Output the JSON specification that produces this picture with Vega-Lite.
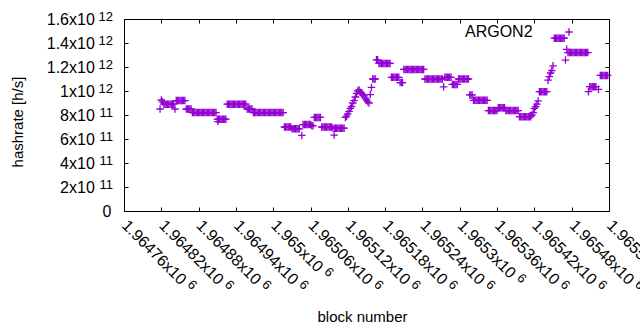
{
"$schema": "https://vega.github.io/schema/vega-lite/v6.json",
"width": 485, "height": 192,
"autosize": {"type": "none"},
"padding": {"left": 124, "top": 19, "right": 31, "bottom": 119},
"background": "white",
"config": {
 "view": {"stroke": "#000", "strokeWidth": 1},
 "axis": {"domain": false, "grid": false, "labelFont": "Liberation Sans", "titleFont": "Liberation Sans", "labelColor": "#000", "titleColor": "#000", "tickColor": "#000", "labelFontSize": 16, "titleFontSize": 15, "titleFontWeight": "normal"}
},
"datasets": {"hr": [
{"b":1964818,"h":8.5e11},{"b":1964820,"h":9.25e11},{"b":1964822,"h":9.1e11},
{"b":1964824,"h":8.9e11},{"b":1964826,"h":8.9e11},{"b":1964828,"h":8.9e11},{"b":1964830,"h":8.9e11},{"b":1964832,"h":8.9e11},{"b":1964834,"h":8.9e11},{"b":1964836,"h":8.9e11},{"b":1964838,"h":8.9e11},{"b":1964840,"h":8.9e11},
{"b":1964842,"h":8.5e11},
{"b":1964844,"h":9.2e11},{"b":1964846,"h":9.2e11},{"b":1964848,"h":9.2e11},{"b":1964850,"h":9.2e11},{"b":1964852,"h":9.2e11},{"b":1964854,"h":9.2e11},{"b":1964856,"h":9.2e11},{"b":1964858,"h":9.2e11},
{"b":1964860,"h":8.5e11},{"b":1964862,"h":8.5e11},{"b":1964864,"h":8.5e11},{"b":1964866,"h":8.5e11},{"b":1964868,"h":8.5e11},
{"b":1964870,"h":8.2e11},{"b":1964872,"h":8.2e11},{"b":1964874,"h":8.2e11},{"b":1964876,"h":8.2e11},{"b":1964878,"h":8.2e11},{"b":1964880,"h":8.2e11},{"b":1964882,"h":8.2e11},{"b":1964884,"h":8.2e11},{"b":1964886,"h":8.2e11},{"b":1964888,"h":8.2e11},{"b":1964890,"h":8.2e11},{"b":1964892,"h":8.2e11},{"b":1964894,"h":8.2e11},{"b":1964896,"h":8.2e11},{"b":1964898,"h":8.2e11},{"b":1964900,"h":8.2e11},{"b":1964902,"h":8.2e11},{"b":1964904,"h":8.2e11},{"b":1964906,"h":8.2e11},{"b":1964908,"h":8.2e11},
{"b":1964910,"h":7.65e11},{"b":1964911,"h":7.45e11},{"b":1964912,"h":7.65e11},{"b":1964914,"h":7.65e11},{"b":1964916,"h":7.65e11},{"b":1964918,"h":7.65e11},{"b":1964920,"h":7.65e11},{"b":1964922,"h":7.65e11},{"b":1964924,"h":7.65e11},
{"b":1964926,"h":8.9e11},{"b":1964928,"h":8.9e11},{"b":1964930,"h":8.9e11},{"b":1964932,"h":8.9e11},{"b":1964934,"h":8.9e11},{"b":1964936,"h":8.9e11},{"b":1964938,"h":8.9e11},{"b":1964940,"h":8.9e11},{"b":1964942,"h":8.9e11},{"b":1964944,"h":8.9e11},{"b":1964946,"h":8.9e11},{"b":1964948,"h":8.9e11},{"b":1964950,"h":8.9e11},{"b":1964952,"h":8.9e11},{"b":1964954,"h":8.9e11},{"b":1964956,"h":8.9e11},
{"b":1964958,"h":8.5e11},{"b":1964960,"h":8.5e11},{"b":1964962,"h":8.5e11},{"b":1964964,"h":8.5e11},{"b":1964966,"h":8.5e11},
{"b":1964968,"h":8.2e11},{"b":1964970,"h":8.2e11},{"b":1964972,"h":8.2e11},{"b":1964974,"h":8.2e11},{"b":1964976,"h":8.2e11},{"b":1964978,"h":8.2e11},{"b":1964980,"h":8.2e11},{"b":1964982,"h":8.2e11},{"b":1964984,"h":8.2e11},{"b":1964986,"h":8.2e11},{"b":1964988,"h":8.2e11},{"b":1964990,"h":8.2e11},{"b":1964992,"h":8.2e11},{"b":1964994,"h":8.2e11},{"b":1964996,"h":8.2e11},{"b":1964998,"h":8.2e11},{"b":1965000,"h":8.2e11},{"b":1965002,"h":8.2e11},{"b":1965004,"h":8.2e11},{"b":1965006,"h":8.2e11},{"b":1965008,"h":8.2e11},{"b":1965010,"h":8.2e11},{"b":1965012,"h":8.2e11},{"b":1965014,"h":8.2e11},{"b":1965016,"h":8.2e11},
{"b":1965018,"h":7.0e11},{"b":1965020,"h":7.0e11},{"b":1965022,"h":7.0e11},{"b":1965024,"h":7.0e11},{"b":1965026,"h":7.0e11},{"b":1965028,"h":7.0e11},
{"b":1965030,"h":6.85e11},{"b":1965032,"h":6.85e11},{"b":1965034,"h":6.85e11},{"b":1965036,"h":6.85e11},{"b":1965038,"h":6.85e11},{"b":1965040,"h":6.85e11},{"b":1965042,"h":6.85e11},
{"b":1965046,"h":6.3e11},
{"b":1965048,"h":7.2e11},{"b":1965050,"h":7.2e11},{"b":1965052,"h":7.2e11},{"b":1965054,"h":7.2e11},{"b":1965056,"h":7.2e11},{"b":1965058,"h":7.2e11},{"b":1965060,"h":7.2e11},
{"b":1965062,"h":7.1e11},{"b":1965064,"h":7.1e11},
{"b":1965066,"h":7.8e11},{"b":1965068,"h":7.8e11},{"b":1965070,"h":7.8e11},{"b":1965072,"h":7.8e11},{"b":1965074,"h":7.8e11},{"b":1965076,"h":7.8e11},
{"b":1965078,"h":7.0e11},{"b":1965080,"h":7.0e11},{"b":1965082,"h":7.0e11},{"b":1965084,"h":7.0e11},{"b":1965086,"h":7.0e11},{"b":1965088,"h":7.0e11},{"b":1965090,"h":7.0e11},{"b":1965092,"h":7.0e11},{"b":1965094,"h":7.0e11},
{"b":1965096,"h":6.9e11},{"b":1965098,"h":6.33e11},{"b":1965099,"h":6.9e11},{"b":1965100,"h":6.9e11},{"b":1965102,"h":6.9e11},{"b":1965104,"h":6.9e11},{"b":1965106,"h":6.9e11},{"b":1965108,"h":6.9e11},{"b":1965110,"h":6.9e11},{"b":1965112,"h":6.9e11},{"b":1965114,"h":6.9e11},
{"b":1965116,"h":7.8e11},{"b":1965118,"h":7.9e11},{"b":1965120,"h":8.1e11},{"b":1965122,"h":8.3e11},{"b":1965124,"h":8.55e11},{"b":1965126,"h":8.7e11},{"b":1965128,"h":9.0e11},{"b":1965130,"h":9.2e11},{"b":1965132,"h":9.5e11},{"b":1965134,"h":9.8e11},{"b":1965136,"h":1.0e12},{"b":1965138,"h":1.01e12},{"b":1965140,"h":9.9e11},{"b":1965142,"h":9.8e11},{"b":1965144,"h":9.7e11},{"b":1965146,"h":9.6e11},{"b":1965148,"h":9.4e11},{"b":1965150,"h":9.25e11},{"b":1965152,"h":9.1e11},{"b":1965154,"h":9.0e11},{"b":1965156,"h":9.7e11},{"b":1965158,"h":1.03e12},
{"b":1965160,"h":1.1e12},{"b":1965162,"h":1.1e12},{"b":1965164,"h":1.1e12},
{"b":1965166,"h":1.26e12},{"b":1965168,"h":1.26e12},
{"b":1965170,"h":1.23e12},{"b":1965172,"h":1.23e12},{"b":1965174,"h":1.23e12},{"b":1965176,"h":1.23e12},{"b":1965178,"h":1.23e12},{"b":1965180,"h":1.23e12},{"b":1965182,"h":1.23e12},{"b":1965184,"h":1.23e12},{"b":1965186,"h":1.23e12},{"b":1965188,"h":1.23e12},
{"b":1965190,"h":1.114e12},{"b":1965192,"h":1.114e12},{"b":1965194,"h":1.114e12},{"b":1965196,"h":1.114e12},{"b":1965198,"h":1.114e12},{"b":1965200,"h":1.114e12},{"b":1965202,"h":1.114e12},
{"b":1965204,"h":1.07e12},{"b":1965206,"h":1.07e12},{"b":1965208,"h":1.07e12},
{"b":1965210,"h":1.18e12},{"b":1965212,"h":1.18e12},{"b":1965214,"h":1.18e12},{"b":1965216,"h":1.18e12},{"b":1965218,"h":1.18e12},{"b":1965220,"h":1.18e12},{"b":1965222,"h":1.18e12},{"b":1965224,"h":1.18e12},{"b":1965226,"h":1.18e12},{"b":1965228,"h":1.18e12},{"b":1965230,"h":1.18e12},{"b":1965232,"h":1.18e12},{"b":1965234,"h":1.18e12},{"b":1965236,"h":1.18e12},{"b":1965238,"h":1.18e12},{"b":1965240,"h":1.18e12},{"b":1965242,"h":1.18e12},
{"b":1965244,"h":1.1e12},{"b":1965246,"h":1.1e12},{"b":1965248,"h":1.1e12},{"b":1965250,"h":1.1e12},{"b":1965252,"h":1.1e12},{"b":1965254,"h":1.1e12},{"b":1965256,"h":1.1e12},{"b":1965258,"h":1.1e12},{"b":1965260,"h":1.1e12},{"b":1965262,"h":1.1e12},{"b":1965264,"h":1.1e12},{"b":1965266,"h":1.1e12},{"b":1965268,"h":1.1e12},{"b":1965270,"h":1.1e12},{"b":1965272,"h":1.1e12},
{"b":1965274,"h":1.035e12},
{"b":1965276,"h":1.114e12},{"b":1965278,"h":1.114e12},{"b":1965280,"h":1.114e12},{"b":1965282,"h":1.114e12},{"b":1965284,"h":1.114e12},{"b":1965286,"h":1.114e12},
{"b":1965288,"h":1.055e12},{"b":1965290,"h":1.055e12},{"b":1965292,"h":1.055e12},{"b":1965294,"h":1.055e12},{"b":1965296,"h":1.055e12},
{"b":1965298,"h":1.1e12},{"b":1965300,"h":1.1e12},{"b":1965302,"h":1.1e12},{"b":1965304,"h":1.1e12},{"b":1965306,"h":1.1e12},{"b":1965308,"h":1.1e12},{"b":1965310,"h":1.1e12},{"b":1965312,"h":1.1e12},{"b":1965314,"h":1.1e12},
{"b":1965316,"h":9.67e11},{"b":1965318,"h":9.67e11},{"b":1965320,"h":9.67e11},
{"b":1965322,"h":9.22e11},{"b":1965324,"h":9.22e11},{"b":1965326,"h":9.22e11},{"b":1965328,"h":9.22e11},{"b":1965330,"h":9.22e11},{"b":1965332,"h":9.22e11},{"b":1965334,"h":9.22e11},{"b":1965336,"h":9.22e11},{"b":1965338,"h":9.22e11},{"b":1965340,"h":9.22e11},{"b":1965342,"h":9.22e11},{"b":1965344,"h":9.22e11},
{"b":1965346,"h":8.37e11},{"b":1965348,"h":8.37e11},{"b":1965350,"h":8.37e11},{"b":1965352,"h":8.37e11},{"b":1965354,"h":8.37e11},{"b":1965356,"h":8.37e11},{"b":1965358,"h":8.37e11},{"b":1965360,"h":8.37e11},
{"b":1965362,"h":8.6e11},{"b":1965364,"h":8.6e11},{"b":1965366,"h":8.6e11},{"b":1965368,"h":8.6e11},{"b":1965370,"h":8.6e11},{"b":1965372,"h":8.6e11},
{"b":1965374,"h":8.37e11},{"b":1965376,"h":8.37e11},{"b":1965378,"h":8.37e11},{"b":1965380,"h":8.37e11},{"b":1965382,"h":8.37e11},{"b":1965384,"h":8.37e11},{"b":1965386,"h":8.37e11},{"b":1965388,"h":8.37e11},{"b":1965390,"h":8.37e11},{"b":1965392,"h":8.37e11},{"b":1965394,"h":8.37e11},
{"b":1965396,"h":7.86e11},{"b":1965398,"h":7.86e11},{"b":1965400,"h":7.86e11},{"b":1965402,"h":7.86e11},{"b":1965404,"h":7.86e11},{"b":1965406,"h":7.86e11},{"b":1965408,"h":7.86e11},{"b":1965410,"h":7.86e11},{"b":1965412,"h":7.86e11},{"b":1965414,"h":7.86e11},
{"b":1965416,"h":8.0e11},{"b":1965418,"h":8.2e11},{"b":1965420,"h":8.56e11},{"b":1965422,"h":8.7e11},{"b":1965424,"h":8.9e11},{"b":1965426,"h":9.17e11},
{"b":1965428,"h":9.94e11},{"b":1965430,"h":9.94e11},{"b":1965432,"h":9.94e11},{"b":1965434,"h":9.94e11},{"b":1965436,"h":9.94e11},{"b":1965438,"h":9.94e11},{"b":1965440,"h":9.94e11},
{"b":1965442,"h":1.09e12},{"b":1965444,"h":1.12e12},{"b":1965446,"h":1.15e12},{"b":1965448,"h":1.17e12},{"b":1965450,"h":1.21e12},
{"b":1965452,"h":1.44e12},{"b":1965454,"h":1.44e12},{"b":1965456,"h":1.44e12},{"b":1965458,"h":1.44e12},{"b":1965460,"h":1.44e12},{"b":1965462,"h":1.44e12},{"b":1965464,"h":1.44e12},{"b":1965466,"h":1.44e12},{"b":1965468,"h":1.44e12},
{"b":1965470,"h":1.258e12},{"b":1965472,"h":1.347e12},
{"b":1965474,"h":1.32e12},{"b":1965476,"h":1.32e12},{"b":1965478,"h":1.32e12},{"b":1965480,"h":1.32e12},{"b":1965482,"h":1.32e12},{"b":1965484,"h":1.32e12},{"b":1965486,"h":1.32e12},{"b":1965488,"h":1.32e12},{"b":1965490,"h":1.32e12},{"b":1965492,"h":1.32e12},{"b":1965494,"h":1.32e12},{"b":1965496,"h":1.32e12},{"b":1965498,"h":1.32e12},{"b":1965500,"h":1.32e12},{"b":1965502,"h":1.32e12},{"b":1965504,"h":1.32e12},{"b":1965506,"h":1.32e12},
{"b":1965507,"h":9.94e11},
{"b":1965509,"h":1.036e12},{"b":1965511,"h":1.036e12},{"b":1965513,"h":1.036e12},{"b":1965515,"h":1.036e12},{"b":1965517,"h":1.036e12},{"b":1965519,"h":1.036e12},
{"b":1965523,"h":1.014e12},
{"b":1965526,"h":1.13e12},{"b":1965528,"h":1.13e12},{"b":1965530,"h":1.13e12},{"b":1965532,"h":1.13e12},{"b":1965534,"h":1.13e12},{"b":1965536,"h":1.13e12},{"b":1965538,"h":1.13e12}
]},
"layer": [
 {
  "data": {"name": "hr"},
  "mark": {"type": "point", "shape": "M-1,0H1M0,-1V1", "filled": false, "size": 56, "strokeWidth": 1.3, "opacity": 1},
  "encoding": {
   "x": {"field": "b", "type": "quantitative",
    "scale": {"domain": [1964760, 1965540], "nice": false, "zero": false},
    "axis": {"orient": "bottom", "values": [1964760,1964820,1964880,1964940,1965000,1965060,1965120,1965180,1965240,1965300,1965360,1965420,1965480,1965540],
     "labelExpr": "format(datum.value/1e6, '.6~g') + 'x10'",
     "labelAngle": 45, "labelAlign": "left", "labelBaseline": "middle", "labelPadding": 15.5, "labelOffset": 0, "tickSize": -4,
     "labelFlush": false, "labelOverlap": false, "labelBound": false,
     "title": "block number", "titleX": 238, "titleY": 110, "titleAlign": "center", "titleBaseline": "alphabetic"}},
   "y": {"field": "h", "type": "quantitative",
    "scale": {"domain": [0, 1600000000000], "nice": false, "zero": true},
    "axis": {"orient": "left", "values": [0,200000000000,400000000000,600000000000,800000000000,1000000000000,1200000000000,1400000000000,1600000000000],
     "labelExpr": "datum.value == 0 ? '' : (datum.value >= 1e12 ? format(datum.value/1e12, '~g') : format(datum.value/1e11, '~g')) + 'x10'",
     "labelAlign": "right", "labelBaseline": "middle", "labelPadding": 33.7, "tickSize": -4, "labelOverlap": false, "labelFlush": false,
     "title": "hashrate [h/s]", "titleAngle": -90, "titleX": -107, "titleY": 102.5, "titleAlign": "center", "titleBaseline": "middle"}},
   "color": {"datum": "ARGON2", "type": "nominal", "scale": {"range": ["#9400d3"]},
    "legend": {"orient": "none", "legendX": 330, "legendY": 5, "title": null, "labelFontSize": 16, "labelFont": "Liberation Sans", "labelColor": "#000", "labelOffset": -112, "symbolOffset": 107, "symbolType": "M-1,0H1M0,-1V1", "symbolSize": 56, "symbolStrokeWidth": 1.3, "padding": 0}}
  }
 },
 {
  "data": {"name": "hr"},
  "mark": {"type": "point", "opacity": 0},
  "encoding": {
   "x": {"field": "b", "type": "quantitative",
    "axis": {"orient": "top", "values": [1964760,1964820,1964880,1964940,1965000,1965060,1965120,1965180,1965240,1965300,1965360,1965420,1965480,1965540], "labels": false, "tickSize": -4, "title": null}},
   "y": {"field": "h", "type": "quantitative",
    "axis": {"orient": "left", "values": [0,200000000000,400000000000,600000000000,800000000000,1000000000000,1200000000000,1400000000000,1600000000000], "ticks": false,
     "labelExpr": "datum.value == 0 ? '0' : (datum.value >= 1e12 ? '12' : '11')",
     "labelAlign": "right", "labelBaseline": "middle", "labelOverlap": false, "labelFlush": false,
     "labelPadding": {"condition": {"test": "datum.value == 0", "value": 13}, "value": 11.5},
     "labelOffset": {"condition": {"test": "datum.value == 0", "value": 0}, "value": -3},
     "labelFontSize": {"condition": {"test": "datum.value == 0", "value": 16}, "value": 13},
     "title": null}}
  }
 },
 {
  "data": {"name": "hr"},
  "mark": {"type": "point", "opacity": 0},
  "encoding": {
   "x": {"field": "b", "type": "quantitative",
    "axis": {"orient": "bottom", "values": [1964760,1964820,1964880,1964940,1965000,1965060,1965120,1965180,1965240,1965300,1965360,1965420,1965480,1965540], "ticks": false,
     "labelExpr": "'6'", "labelFontSize": 13,
     "labelAngle": 45, "labelAlign": "left", "labelBaseline": "middle",
     "labelFlush": false, "labelOverlap": false, "labelBound": false,
     "labelPadding": {"condition": [{"test": "datum.value == 1965000", "value": 58.2}, {"test": "datum.value == 1965300", "value": 64.5}], "value": 70.8},
     "labelOffset": {"condition": [{"test": "datum.value == 1965000", "value": 52.5}, {"test": "datum.value == 1965300", "value": 58.8}], "value": 65.0},
     "title": null}},
   "y": {"field": "h", "type": "quantitative",
    "axis": {"orient": "right", "values": [0,200000000000,400000000000,600000000000,800000000000,1000000000000,1200000000000,1400000000000,1600000000000], "labels": false, "tickSize": -4, "title": null}}
  }
 }
],
"resolve": {"axis": {"x": "independent", "y": "independent"}}
}
